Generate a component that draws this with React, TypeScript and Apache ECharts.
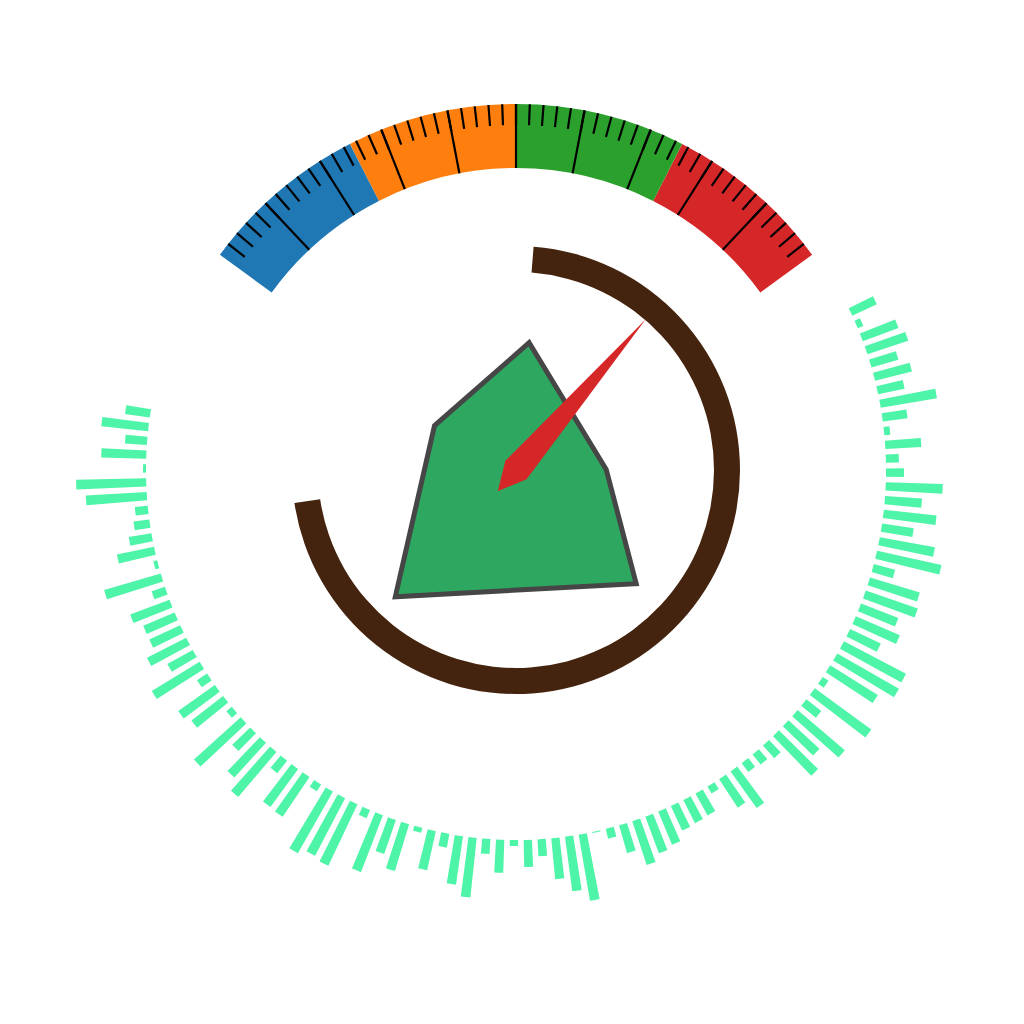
import React, { useEffect, useRef } from "react";
import * as echarts from "echarts";

// ---- Data ----
// Outer radial bars (one value per category, clockwise from the upper right)
const barValues = [
  27, 6, 38, 43, 28, 38, 27, 57, 25, 6,
  36, 13, 18, 57, 37, 53, 32, 56, 66, 22,
  52, 55, 40, 48, 34, 70, 71, 56, 7, 70,
  19, 62, 42, 55, 17, 13, 11, 45, 34, 8,
  25, 26, 27, 36, 39, 46, 29, 10, 1, 67,
  55, 41, 17, 27, 6, 33, 15, 60, 49, 14,
  40, 5, 49, 36, 61, 9, 68, 65, 71, 8,
  48, 47, 16, 59, 47, 25, 63, 7, 40, 45,
  12, 56, 29, 44, 34, 34, 42, 14, 59, 4,
  38, 23, 16, 13, 61, 70, 3, 45, 22, 47,
  25,
];
const barCategories = barValues.map((_, i) => `B${i + 1}`);

// Gauge
const gaugeValue = [87.7];
const gaugeBands = [0.25, 0.5, 0.75, 1];
const gaugeColors = ["#1f77b4", "#ff7f0e", "#2ca02c", "#d62728"];

// Inner ring (share of a full turn, in percent)
const ringValues = [71.4, 28.6];

// Polygon vertices: radius and angle (degrees, counter-clockwise from east)
const polygonRadius = [128, 90.2, 165.4, 175, 92.8];
const polygonAngle = [84.1, 0.4, 316.6, 226.4, 151.4];

// ---- Layout constants ----
const CX = 516;
const CY = 470;
const G_START = 144;
const G_END = 36;
const G_SPLITS = 10;
const G_SUB = 5;
const G_R = 366;
const G_W = 64;

export default function App() {
  const ref = useRef<HTMLDivElement>(null);

  useEffect(() => {
    if (!ref.current) return;
    const chart = echarts.init(ref.current, undefined, { renderer: "svg" });

    const span = G_START - G_END;
    const step = span / G_SPLITS;
    const sub = step / G_SUB;

    const hiddenGaugeParts = {
      axisTick: { show: false },
      axisLabel: { show: false },
      pointer: { show: false },
      anchor: { show: false },
      title: { show: false },
      detail: { show: false },
      progress: { show: false },
    };

    const barStep = 2.141;
    const barStart = 25.3 + barStep / 2;
    const barEnd = barStart - barStep * barValues.length;

    const option: any = {
      animation: false,
      backgroundColor: "#ffffff",
      polar: [
        { center: [CX, CY], radius: [370, 445] },
        { center: [CX, CY], radius: 200 },
      ],
      angleAxis: [
        {
          polarIndex: 0,
          type: "category",
          data: barCategories,
          startAngle: barStart,
          endAngle: barEnd,
          clockwise: true,
          show: false,
        },
        {
          polarIndex: 1,
          type: "value",
          min: 0,
          max: 360,
          startAngle: 0,
          clockwise: false,
          show: false,
        },
      ],
      radiusAxis: [
        { polarIndex: 0, type: "value", min: 0, max: 75, show: false },
        { polarIndex: 1, type: "value", min: 0, max: 200, show: false },
      ],
      series: [
        {
          type: "bar",
          coordinateSystem: "polar",
          polarIndex: 0,
          data: barValues,
          barCategoryGap: "40%",
          itemStyle: { color: "#4ef4a8" },
          silent: true,
        },
        {
          type: "pie",
          center: [CX, CY],
          radius: [198, 224],
          startAngle: 85.5,
          clockwise: true,
          silent: true,
          label: { show: false },
          labelLine: { show: false },
          emphasis: { disabled: true },
          itemStyle: { borderWidth: 0 },
          data: [
            { value: ringValues[0], itemStyle: { color: "#45240f", borderWidth: 0 } },
            { value: ringValues[1], itemStyle: { color: "rgba(0,0,0,0)", borderWidth: 0 } },
          ],
        },
        {
          type: "custom",
          coordinateSystem: "polar",
          polarIndex: 1,
          data: polygonRadius.map((r, i) => [r, polygonAngle[i]]),
          silent: true,
          renderItem: (params: any, api: any) => {
            if (params.dataIndex !== 0) return null;
            const points = polygonRadius.map((r, i) => api.coord([r, polygonAngle[i]]));
            return {
              type: "polygon",
              shape: { points },
              style: {
                fill: "#2ea860",
                stroke: "#464646",
                lineWidth: 5,
                lineJoin: "miter",
              },
            };
          },
        },
        {
          type: "gauge",
          center: [CX, CY],
          radius: G_R,
          startAngle: G_START,
          endAngle: G_END,
          min: 0,
          max: 100,
          splitNumber: G_SPLITS,
          axisLine: {
            lineStyle: {
              width: G_W,
              color: gaugeBands.map((b, i) => [b, gaugeColors[i]]),
            },
          },
          splitLine: { show: false },
          axisTick: { show: false },
          axisLabel: { show: false },
          anchor: { show: false },
          title: { show: false },
          detail: { show: false },
          progress: { show: false },
          pointer: {
            show: true,
            length: 199,
            width: 14,
            itemStyle: { color: "#d62728" },
          },
          data: [{ value: gaugeValue[0] }],
        },
        {
          type: "gauge",
          center: [CX, CY],
          radius: G_R,
          startAngle: G_START - sub,
          endAngle: G_END + sub,
          min: 0,
          max: 100,
          splitNumber: G_SPLITS * G_SUB - 2,
          axisLine: { show: false, lineStyle: { width: G_W } },
          splitLine: {
            show: true,
            length: 21,
            distance: -G_W,
            lineStyle: { color: "#000000", width: 2.2 },
          },
          ...hiddenGaugeParts,
          data: [],
        },
        {
          type: "gauge",
          center: [CX, CY],
          radius: G_R,
          startAngle: G_START - step,
          endAngle: G_END + step,
          min: 0,
          max: 100,
          splitNumber: G_SPLITS - 2,
          axisLine: { show: false, lineStyle: { width: G_W } },
          splitLine: {
            show: true,
            length: G_W,
            distance: -G_W,
            lineStyle: { color: "#000000", width: 2.2 },
          },
          ...hiddenGaugeParts,
          data: [],
        },
      ],
    };

    chart.setOption(option);
    return () => {
      chart.dispose();
    };
  }, []);

  return (
    <div
      ref={ref}
      style={{ position: "fixed", left: 0, top: 0, width: 1024, height: 1024 }}
    />
  );
}
